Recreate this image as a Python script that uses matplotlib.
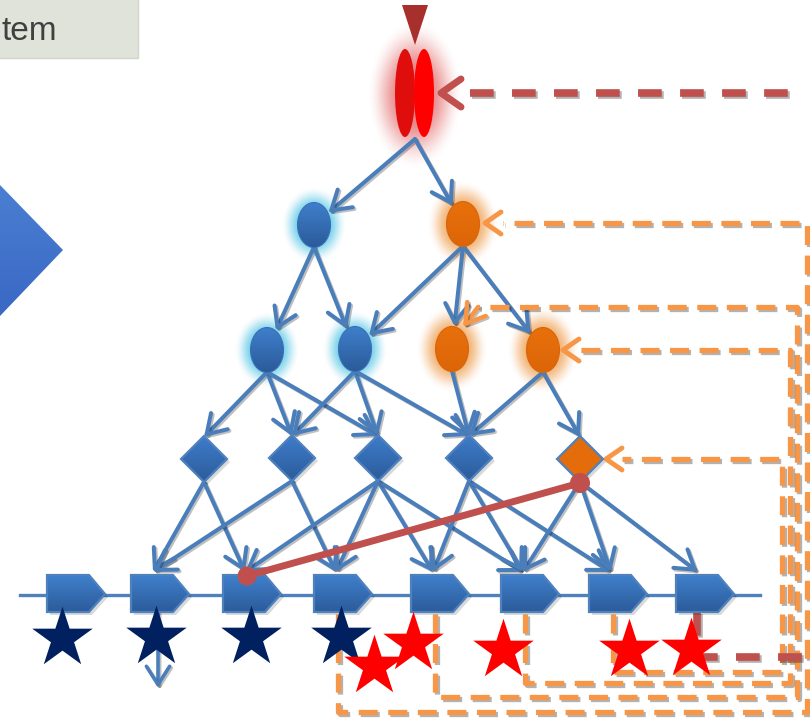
import numpy as np
import matplotlib.pyplot as plt
from matplotlib.patches import Polygon, Ellipse, FancyArrowPatch, Circle, Rectangle
from matplotlib.colors import LinearSegmentedColormap, to_rgb
from matplotlib import patheffects as pe

#  Layout of the network (pixel coordinates, y grows downwards)
TOP_NODE = (415, 93)
LEVEL1 = [(314, 225), (463, 224)]
LEVEL1_KIND = ['blue', 'orange']
LEVEL2 = [(267, 350), (355, 349), (452, 349), (543, 350)]
LEVEL2_KIND = ['blue', 'blue', 'orange', 'orange']
LEVEL3 = [(204, 459), (292, 458), (378, 458), (469, 458), (580, 459)]
LEVEL3_KIND = ['blue', 'blue', 'blue', 'blue', 'orange']
GENE_X = [76, 160, 252, 343, 440, 530, 618, 705]
GENE_Y = 594

#  Regulatory edges (source index, target index)
EDGES_0_1 = [0, 1]
EDGES_1_2 = [(0, 0), (0, 1), (1, 1), (1, 2), (1, 3)]
EDGES_2_3 = [(0, 0), (0, 1), (0, 2), (1, 1), (1, 2), (1, 3),
             (2, 3), (3, 3), (3, 4)]
EDGES_3_G = [(0, 1), (0, 2), (1, 1), (1, 3), (2, 2), (2, 3), (2, 4),
             (2, 5), (3, 4), (3, 5), (3, 6), (4, 5), (4, 6), (4, 7)]

#  Stars under the genes
NAVY_STARS_X = [62, 156, 251, 341]
NAVY_STARS_Y = [638, 637, 637, 637]
RED_STARS_X = [374, 413, 503, 629, 691]
RED_STARS_Y = [666, 643, 650, 650, 649]

#  Feedback paths: gene -> bottom level -> right column -> target level
FEEDBACK_GENE = [3, 4, 5, 6]
FEEDBACK_BOTTOM = [712, 697, 683, 672]
FEEDBACK_RIGHT = [807, 797, 790, 782]
FEEDBACK_LEVEL = [223, 307, 350, 459]
FEEDBACK_END = [503, 478, 580, 622]

CAPTION = 'tem'

BLUE_EDGE = '#4a7ebb'
ORANGE = '#f79646'
DARK_RED = '#c0504d'


def gradient_patch(axes, patch, top, bottom, box, zorder):
    """Fill patch with a vertical colour gradient, box = (x0, x1, y0, y1)"""
    axes.add_patch(patch)
    cmap = LinearSegmentedColormap.from_list('grad', [top, bottom])
    image = axes.imshow(np.linspace(0, 1, 64)[:, None], cmap=cmap,
                        extent=[box[0], box[1], box[3], box[2]],
                        aspect='auto', zorder=zorder,
                        interpolation='bilinear')
    image.set_clip_path(patch)


def glow(axes, centre, radius_x, radius_y, colour, strength=0.85, inner=0.4):
    """Soft halo drawn as an RGBA image"""
    grid_x, grid_y = np.meshgrid(np.linspace(-1, 1, 120),
                                 np.linspace(-1, 1, 120))
    radius = np.sqrt(grid_x**2 + grid_y**2)
    fade = np.clip((radius - inner) / (1 - inner), 0, 1)
    rgba = np.zeros((120, 120, 4))
    rgba[..., :3] = to_rgb(colour)
    rgba[..., 3] = strength * (1 - fade**2 * (3 - 2 * fade))
    axes.imshow(rgba, extent=[centre[0] - radius_x, centre[0] + radius_x,
                              centre[1] + radius_y, centre[1] - radius_y],
                aspect='auto', zorder=1, interpolation='bilinear')


def edge(axes, start, end, colour=BLUE_EDGE, width=2.9, zorder=2):
    """Straight arrow with an open head"""
    axes.add_patch(FancyArrowPatch(
        start, end, arrowstyle='->,head_length=0.6,head_width=0.38',
        mutation_scale=22, color=colour, lw=width, shrinkA=0, shrinkB=0,
        joinstyle='round', capstyle='round', zorder=zorder,
        path_effects=[pe.SimpleLineShadow(offset=(1.2, -1.2), alpha=0.25),
                      pe.Normal()]))


def ellipse_hit(centre, half_w, half_h, source):
    """Point on the ellipse boundary facing source"""
    d_x = source[0] - centre[0]
    d_y = source[1] - centre[1]
    scale = 1 / np.sqrt((d_x / half_w)**2 + (d_y / half_h)**2)
    return (centre[0] + d_x * scale, centre[1] + d_y * scale)


def chevron(axes, tip, colour, size=(16, 11), width=3.5):
    """Open arrow head pointing left"""
    axes.plot([tip[0] + size[0], tip[0], tip[0] + size[0]],
              [tip[1] - size[1], tip[1], tip[1] + size[1]], color=colour,
              lw=width, solid_capstyle='round', solid_joinstyle='round',
              zorder=3)


FIGURE = plt.figure(figsize=(8.1, 7.21), dpi=100)
AX = FIGURE.add_axes([0, 0, 1, 1])
AX.axis('off')

SHADOW = [pe.SimpleLineShadow(offset=(1.5, -1.5), alpha=0.3), pe.Normal()]

#  Top-left caption box and left arrow head
AX.add_patch(Rectangle((-5, -5), 143, 63, facecolor='#dfe3d9',
                       edgecolor='#d0d4ca', lw=1, zorder=1))
AX.text(1, 31, CAPTION, ha='left', va='center', fontsize=24,
        color='#404040', family='Liberation Sans', zorder=2)
gradient_patch(AX, Polygon([(0, 185), (63, 250), (0, 316)], closed=True,
                           facecolor='none', edgecolor='none'),
               '#4a7fd2', '#3a68c4', (0, 63, 185, 316), 2)

#  Top red node
glow(AX, (415, 95), 48, 76, '#e46a6a', 0.85, inner=0.25)
AX.add_patch(Polygon([(402, 5), (428, 5), (415, 45)], closed=True,
                     facecolor='#a8302c', edgecolor='none', zorder=3))
AX.add_patch(Ellipse((405, 93), 20, 88, facecolor='#e00d0d', zorder=3))
AX.add_patch(Ellipse((424, 93), 20, 88, facecolor='#ff0000', zorder=3))
AX.plot([470, 800], [93, 93], color=DARK_RED, lw=5.5, dashes=(3.1, 2.4),
        path_effects=SHADOW, zorder=2)
chevron(AX, (441, 93), DARK_RED, size=(20, 14), width=5)

#  Glows behind coloured nodes
for centre, kind in zip(LEVEL1 + LEVEL2, LEVEL1_KIND + LEVEL2_KIND):
    if kind == 'blue':
        glow(AX, centre, 33, 39, '#55c6e6', 0.85)
    else:
        glow(AX, centre, 36, 44, '#f0a55c', 0.85)

#  Edges: top -> level 1
for target in EDGES_0_1:
    edge(AX, (415, 139), ellipse_hit(LEVEL1[target], 17, 23, (415, 139)))

#  Edges: level 1 -> level 2
for source, target in EDGES_1_2:
    start = (LEVEL1[source][0], LEVEL1[source][1] + 22)
    edge(AX, start, ellipse_hit(LEVEL2[target], 17, 23, start))

#  Edges: level 2 -> level 3
for source, target in EDGES_2_3:
    start = (LEVEL2[source][0], LEVEL2[source][1] + 22)
    edge(AX, start, (LEVEL3[target][0], LEVEL3[target][1] - 22))

#  Edges: level 3 -> genes
for source, target in EDGES_3_G:
    start = (LEVEL3[source][0], LEVEL3[source][1] + 23)
    edge(AX, start, (GENE_X[target] - 7, GENE_Y - 22))

#  Ellipse nodes
for centre, kind in zip(LEVEL1 + LEVEL2, LEVEL1_KIND + LEVEL2_KIND):
    x_c, y_c = centre
    if kind == 'blue':
        gradient_patch(AX, Ellipse(centre, 33, 45, facecolor='none',
                                   edgecolor='#3a70b8', lw=0.8, zorder=4),
                       '#3f7fcc', '#2b5a98', (x_c - 17, x_c + 17,
                                               y_c - 23, y_c + 23), 3)
    else:
        gradient_patch(AX, Ellipse(centre, 33, 45, facecolor='none',
                                   edgecolor='#d8660a', lw=0.8, zorder=4),
                       '#e8700c', '#dc6508', (x_c - 17, x_c + 17,
                                               y_c - 23, y_c + 23), 3)

#  Diamond nodes
for centre, kind in zip(LEVEL3, LEVEL3_KIND):
    x_c, y_c = centre
    corners = [(x_c, y_c - 23), (x_c + 23, y_c), (x_c, y_c + 23),
               (x_c - 23, y_c)]
    AX.add_patch(Polygon([(x + 3, y + 3) for x, y in corners], closed=True,
                         facecolor='#000000', alpha=0.15, edgecolor='none',
                         zorder=2.5))
    if kind == 'blue':
        colours = ('#3e7ccb', '#2c5c9a')
    else:
        colours = ('#e46c0a', '#e46c0a')
    gradient_patch(AX, Polygon(corners, closed=True, facecolor='none',
                               edgecolor='#4f81bd', lw=1.6, zorder=4),
                   colours[0], colours[1],
                   (x_c - 23, x_c + 23, y_c - 23, y_c + 23), 3)

#  Orange feedback loops
for gene, bottom, right, level, end in zip(FEEDBACK_GENE, FEEDBACK_BOTTOM,
                                            FEEDBACK_RIGHT, FEEDBACK_LEVEL,
                                            FEEDBACK_END):
    x_g = GENE_X[gene] - 5
    AX.plot([x_g, x_g, right, right, end],
            [GENE_Y + 20, bottom, bottom, level, level], color=ORANGE,
            lw=3.8, dashes=(3.6, 2.0), path_effects=SHADOW, zorder=2)
chevron(AX, (485, 223), ORANGE)
chevron(AX, (563, 350), ORANGE)
chevron(AX, (606, 459), ORANGE)
edge(AX, (478, 307), (463, 327), colour=ORANGE, width=3.2, zorder=3)

#  Red feedback from the last gene
AX.plot([GENE_X[7] - 8, GENE_X[7] - 8, 815], [GENE_Y + 18, 657, 657],
        color=DARK_RED, lw=5.5, dashes=(3.1, 2.4), path_effects=SHADOW,
        zorder=2)

#  Gene backbone and genes
AX.plot([20, 760], [595, 595], color='#4f81bd', lw=2.4, zorder=2)
for x_g in GENE_X:
    outline = [(x_g - 29, GENE_Y - 19), (x_g + 13, GENE_Y - 19),
               (x_g + 29, GENE_Y), (x_g + 13, GENE_Y + 18),
               (x_g - 29, GENE_Y + 18)]
    AX.add_patch(Polygon([(x + 3, y + 3) for x, y in outline], closed=True,
                         facecolor='#000000', alpha=0.15, edgecolor='none',
                         zorder=2.5))
    gradient_patch(AX, Polygon(outline, closed=True, facecolor='none',
                               edgecolor='#4f81bd', lw=1.6, zorder=4),
                   '#3f7fcc', '#2c5c9a',
                   (x_g - 29, x_g + 29, GENE_Y - 19, GENE_Y + 18), 3)

#  Output arrow under the second gene
edge(AX, (GENE_X[1] - 2, GENE_Y + 18), (GENE_X[1] - 2, 688), width=2.6)

#  Repression link
AX.plot([247, 580], [576, 483], color=DARK_RED, lw=5, solid_capstyle='round',
        zorder=6)
AX.add_patch(Circle((247, 576), 9.5, facecolor=DARK_RED, zorder=6))
AX.add_patch(Circle((580, 483), 10, facecolor=DARK_RED, zorder=6))

#  Stars
AX.scatter(NAVY_STARS_X, NAVY_STARS_Y, marker='*', s=2100, color='#002060',
           linewidths=0, zorder=7)
AX.scatter(RED_STARS_X, RED_STARS_Y, marker='*', s=2100, color='#ff0000',
           linewidths=0, zorder=7)

AX.set_xlim(0, 810)
AX.set_ylim(721, 0)

plt.savefig('out.png', dpi=100)
